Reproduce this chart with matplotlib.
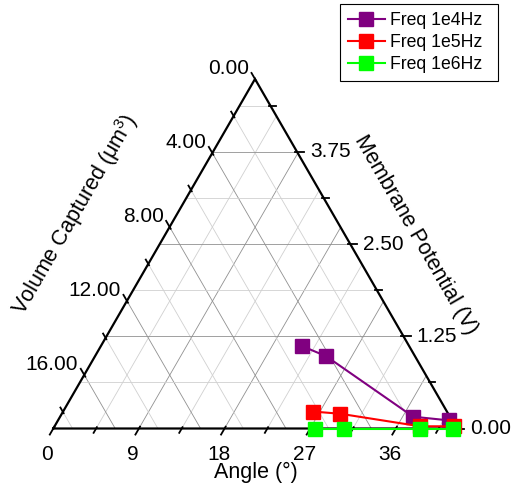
import numpy as np
import matplotlib
matplotlib.use('Agg')
import matplotlib.pyplot as plt

plt.rcParams['font.family'] = ['Liberation Sans', 'DejaVu Sans']
plt.rcParams['mathtext.fontset'] = 'custom'
plt.rcParams['mathtext.rm'] = 'Liberation Sans'
plt.rcParams['mathtext.it'] = 'Liberation Sans:italic'

# end values of the three ternary axes
angle_max = 42.4
volume_max = 18.9
potential_max = 4.74

series_names = ['Freq 1e4Hz', 'Freq 1e5Hz', 'Freq 1e6Hz']
series_colors = ['#800080', '#ff0000', '#00ff00']

angle_1e4 = [21.1, 24.3, 37.1, 41.1]
volume_1e4 = [5.03, 4.16, 1.72, 0.14]
potential_1e4 = [1.12, 0.98, 0.16, 0.11]

angle_1e5 = [26.3, 29.3, 38.4, 42.0]
volume_1e5 = [6.27, 5.06, 1.66, 0.07]
potential_1e5 = [0.23, 0.20, 0.03, 0.03]

angle_1e6 = [27.5, 30.6, 38.5, 42.0]
volume_1e6 = [6.65, 5.28, 1.72, 0.17]
potential_1e6 = [0.0, 0.0, 0.0, 0.0]

# ticks
angle_major = [0, 9, 18, 27, 36]
angle_minor = [4.5, 13.5, 22.5, 31.5, 40.5]
volume_major = [0, 4, 8, 12, 16]
volume_minor = [2, 6, 10, 14, 18]
potential_major = [0, 1.25, 2.5, 3.75]
potential_minor = [0.625, 1.875, 3.125, 4.375]

S3 = np.sqrt(3) / 2


def to_xy(a, v, p):
    # normalise the three components and project onto the triangle
    fa = np.asarray(a, float) / angle_max
    fv = np.asarray(v, float) / volume_max
    fp = np.asarray(p, float) / potential_max
    s = fa + fv + fp
    fa, fp = fa / s, fp / s
    return fa + fp / 2, fp * S3


fig = plt.figure(figsize=(5.14, 4.84), dpi=100)
ax = fig.add_axes([53.3 / 514, 1 - 428.5 / 484, 403.4 / 514, 349.5 / 484])
ax.set_xlim(0, 1)
ax.set_ylim(0, S3)
ax.axis('off')

# grid
def grid_line(kind, val, color, lw):
    if kind == 'angle':
        f = val / angle_max
        xs, ys = [f, f + (1 - f) / 2], [0, (1 - f) * S3]
    elif kind == 'volume':
        g = val / volume_max
        xs, ys = [(1 - g) / 2, 1 - g], [(1 - g) * S3, 0]
    else:
        h = val / potential_max
        xs, ys = [h / 2, 1 - h / 2], [h * S3, h * S3]
    ax.plot(xs, ys, color=color, lw=lw, zorder=1)

for kind, major, minor in [('angle', angle_major, angle_minor),
                           ('volume', volume_major, volume_minor),
                           ('potential', potential_major, potential_minor)]:
    for v in minor:
        grid_line(kind, v, '#d0d0d0', 0.6)
    for v in major[1:]:
        grid_line(kind, v, '#909090', 0.6)

# triangle frame
ax.plot([0, 1, 0.5, 0], [0, 0, S3, 0], color='black', lw=1.6, zorder=3,
        clip_on=False, solid_joinstyle='miter')

# ticks
unit = 1 / 403.4  # one pixel in data units
def draw_tick(x0, y0, d, length):
    ax.plot([x0 - 0.3 * d[0] * length, x0 + d[0] * length],
            [y0 - 0.3 * d[1] * length, y0 + d[1] * length],
            color='black', lw=1.3, zorder=3, clip_on=False)

d_bottom = (-0.5, -S3)
d_left = (-0.5, S3)
d_right = (1.0, 0.0)

for v in angle_major + angle_minor:
    f = v / angle_max
    draw_tick(f, 0, d_bottom, (7 if v in angle_major else 5) * unit)
    if v in angle_major:
        ax.annotate('%d' % v, (f, 0), xytext=(-6, -16), textcoords='offset pixels',
                    ha='center', va='top', fontsize=15)

for v in volume_major + volume_minor:
    g = v / volume_max
    x0, y0 = (1 - g) / 2, (1 - g) * S3
    draw_tick(x0, y0, d_left, (7 if v in volume_major else 5) * unit)
    if v in volume_major:
        ax.annotate('%.2f' % v, (x0, y0), xytext=(-6, 10), textcoords='offset pixels',
                    ha='right', va='center', fontsize=15)

for v in potential_major + potential_minor:
    h = v / potential_max
    x0, y0 = 1 - h / 2, h * S3
    draw_tick(x0, y0, d_right, (7 if v in potential_major else 5) * unit)
    if v in potential_major:
        ax.annotate('%.2f' % v, (x0, y0), xytext=(13, 0), textcoords='offset pixels',
                    ha='left', va='center', fontsize=15)

# data
data = [(angle_1e4, volume_1e4, potential_1e4),
        (angle_1e5, volume_1e5, potential_1e5),
        (angle_1e6, volume_1e6, potential_1e6)]
for (a, v, p), name, c in zip(data, series_names, series_colors):
    x, y = to_xy(a, v, p)
    ax.plot(x, y, color=c, lw=1.5, marker='s', ms=9.5, mec=c, mfc=c,
            label=name, zorder=5, clip_on=False)

# axis titles
fig.text(256 / 514, 1 - 478 / 484, 'Angle (°)', ha='center', va='baseline', fontsize=15.5)
fig.text(75 / 514, 1 - 214 / 484, 'Volume Captured (μm$^{3}$)', ha='center', va='center',
         rotation=60, fontsize=15.5)
fig.text(415.5 / 514, 1 - 234.5 / 484, 'Membrane Potential (V)', ha='center', va='center',
         rotation=-60, fontsize=15.5)

leg = ax.legend(loc='upper left', bbox_to_anchor=(340 / 514, 1 - 77 / 484, 158 / 514, 73 / 484),
                bbox_transform=fig.transFigure, mode='expand', borderaxespad=0,
                fontsize=12.7, handlelength=2.1, handletextpad=0.28, labelspacing=0.28,
                borderpad=0.45, fancybox=False, edgecolor='black', framealpha=1)
leg.get_frame().set_linewidth(0.8)

fig.savefig('out.png', dpi=100)
